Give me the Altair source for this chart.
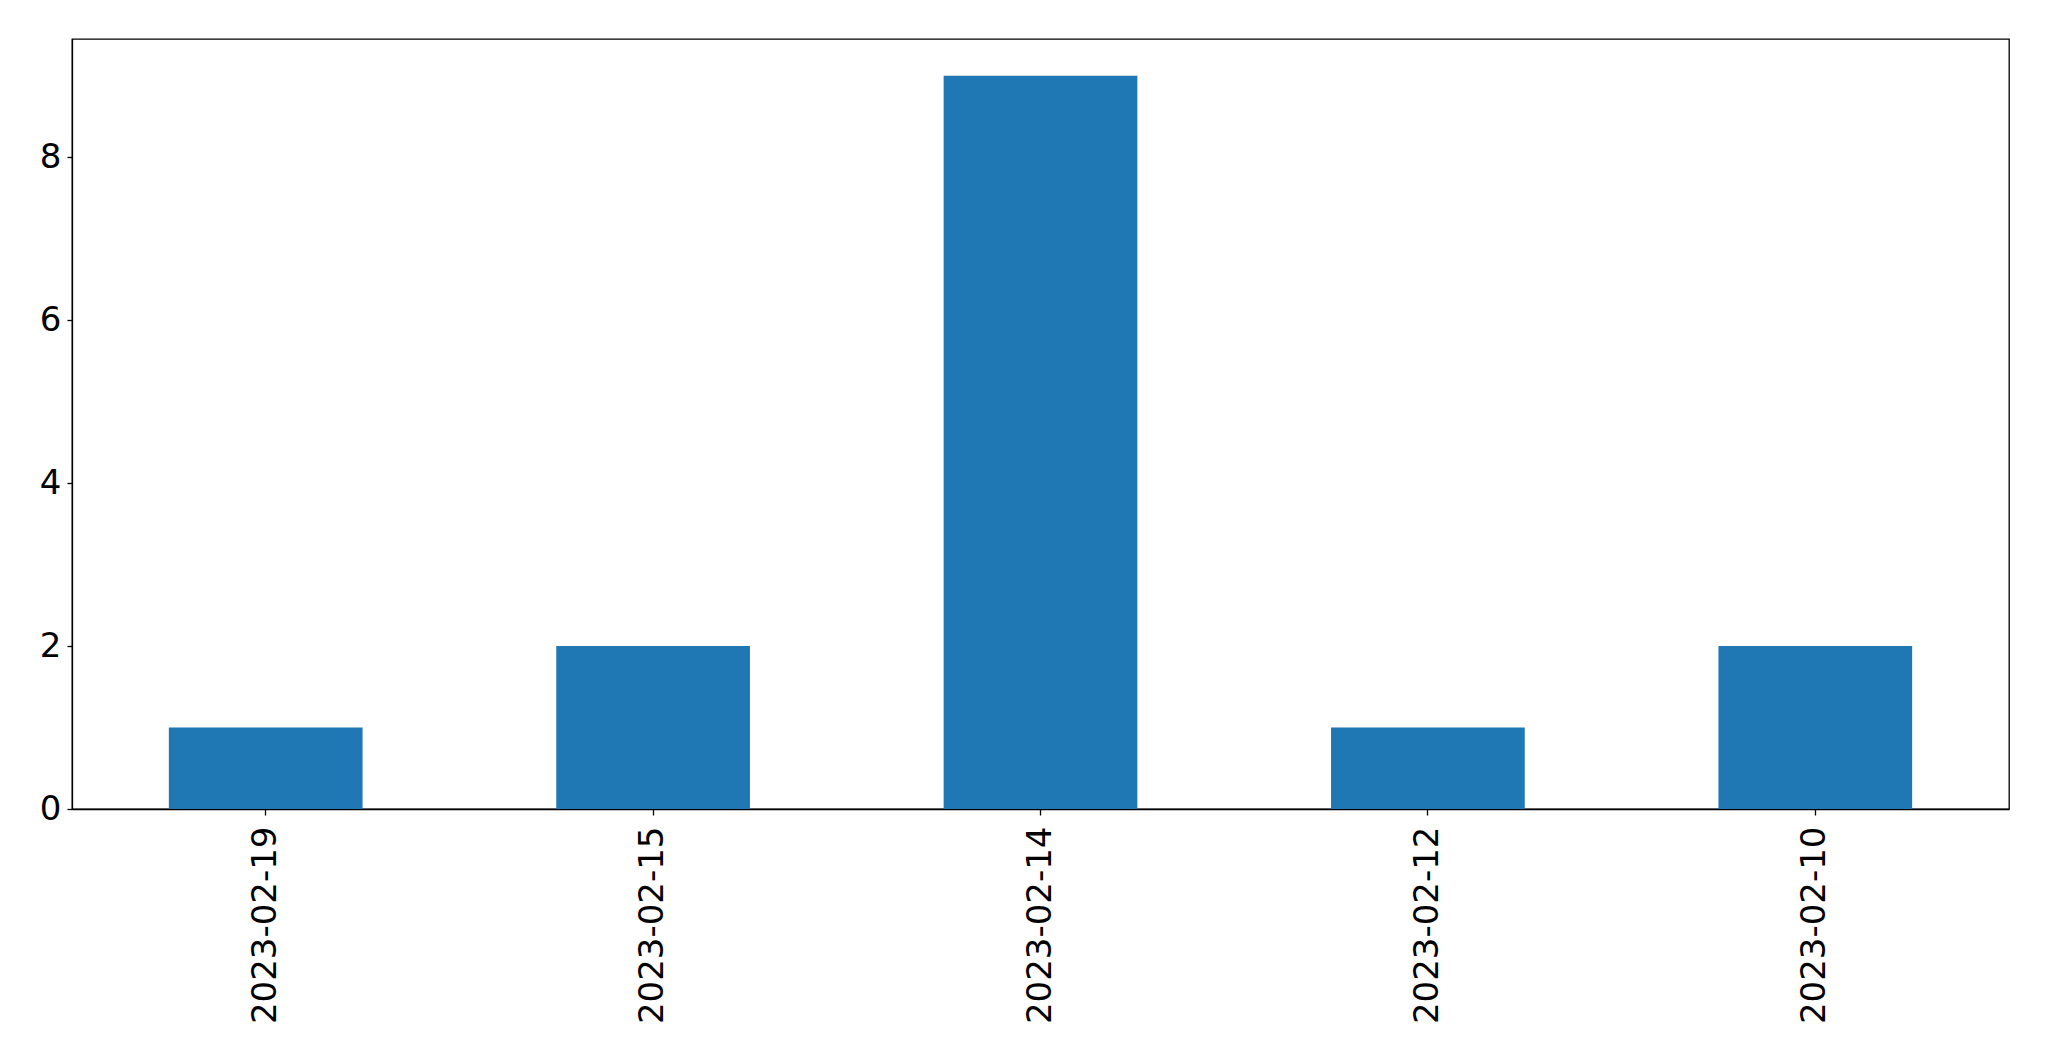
import altair as alt
import pandas as pd

dates = ["2023-02-19", "2023-02-15", "2023-02-14", "2023-02-12", "2023-02-10"]
counts = [1, 2, 9, 1, 2]

df = pd.DataFrame({"date": dates, "count": counts})

chart = alt.Chart(df).mark_bar(color="#1f77b4").encode(
    x=alt.X("date:N", sort=dates, title=None,
            scale=alt.Scale(paddingInner=0.5, paddingOuter=0.25),
            axis=alt.Axis(labelAngle=-90, labelFontSize=34, labelFont="DejaVu Sans",
                          labelColor="black", tickColor="black", domainColor="black",
                          tickSize=6, labelPadding=11, grid=False, domainWidth=1.3, tickWidth=1.3,
                          labelLimit=0)),
    y=alt.Y("count:Q", title=None,
            scale=alt.Scale(domain=[0, 9.45], nice=False),
            axis=alt.Axis(values=[0, 2, 4, 6, 8], labelFontSize=34, labelFont="DejaVu Sans",
                          labelColor="black", tickColor="black", domainColor="black",
                          tickSize=5, labelPadding=6, grid=False, domainWidth=1.3, tickWidth=1.3)),
).properties(
    width=1937, height=770,
    autosize=alt.AutoSizeParams(type="none"),
    padding={"left": 64, "top": 31, "right": 32, "bottom": 240},
).configure_view(stroke="black", strokeWidth=1.3)

chart.save("out.html", embed_options={"renderer": "svg", "actions": False})
